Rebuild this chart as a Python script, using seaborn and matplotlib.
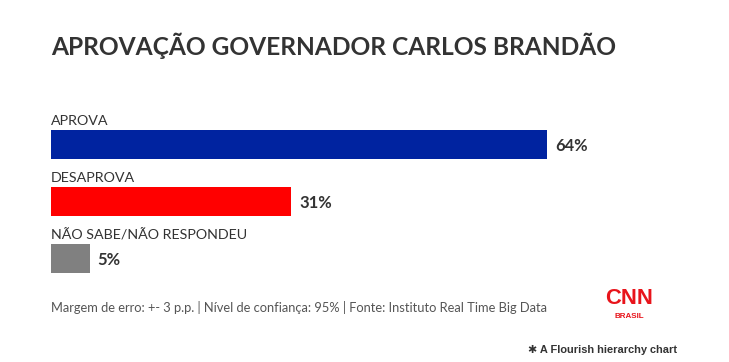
import matplotlib
matplotlib.use("Agg")
import matplotlib.pyplot as plt
import seaborn as sns
import pandas as pd

title = "APROVAÇÃO GOVERNADOR CARLOS BRANDÃO"
categories = ["APROVA", "DESAPROVA", "NÃO SABE/NÃO RESPONDEU"]
values = [64, 31, 5]
value_labels = ["64%", "31%", "5%"]
colors = ["#0023A0", "#FF0000", "#808080"]
footer = "Margem de erro: +- 3 p.p. | Nível de confiança: 95% | Fonte: Instituto Real Time Big Data"

sns.set_theme(style="white")
plt.rcParams['font.family'] = ['Lato', 'DejaVu Sans']

W, H = 729, 362
PX = 0.72  # points per pixel at dpi 100
fig = plt.figure(figsize=(W / 100, H / 100), dpi=100)
fig.patch.set_facecolor("white")

ax = fig.add_axes([51 / W, 1 - 287 / H, (W - 51) / W, 171 / H])
df = pd.DataFrame({"cat": categories, "val": values})
sns.barplot(data=df, x="val", y="cat", hue="cat", palette=colors,
            width=29 / 57, ax=ax, legend=False, saturation=1, linewidth=0)
ax.set_xlim(0, (W - 51) / 7.75)
ax.set_ylim(2.5, -0.5)
ax.axis("off")

for i, (c, v, lab) in enumerate(zip(categories, values, value_labels)):
    ax.text(0, i - 0.41, c, ha="left", va="center", fontsize=14.3 * PX,
            color="#333333", clip_on=False)
    ax.annotate(lab, xy=(v, i + 0.02), xytext=(8 * PX, 0), textcoords="offset points",
                ha="left", va="center", fontsize=16.5 * PX, fontweight="bold",
                color="#333333")

fig.text(51 / W, 1 - 46 / H, title, ha="left", va="center", fontsize=24.5 * PX,
         fontweight="bold", color="#333333")
fig.text(51 / W, 1 - 308 / H, footer, ha="left", va="center", fontsize=12.9 * PX,
         color="#555555")
fig.text(629 / W, 1 - 299 / H, "CNN", ha="center", va="center", fontsize=22 * PX,
         fontweight="bold", color="#E8141B", family=["Liberation Sans Narrow", "Liberation Sans"])
fig.text(629 / W, 1 - 317 / H, "BRASIL", ha="center", va="center", fontsize=8 * PX,
         fontweight="bold", color="#E8141B", family=["Liberation Sans"])
fig.text(528 / W, 1 - 350 / H, "✱ A Flourish hierarchy chart", ha="left", va="center",
         fontsize=11 * PX, fontweight="bold", color="#333333",
         family=["Liberation Sans", "DejaVu Sans"])

fig.savefig("out.png", dpi=100, facecolor="white")
